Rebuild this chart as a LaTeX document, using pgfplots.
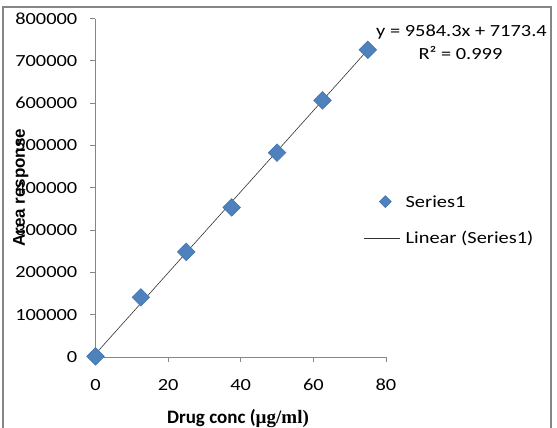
\documentclass[border=0pt]{standalone}
\usepackage{pgfplots}
\pgfplotsset{compat=1.18}
\usepackage{graphicx}
\usepackage{fontspec}
\setmainfont{Carlito}
\newfontfamily\lsans{Liberation Sans}
\newfontfamily\lserif{Liberation Serif}
\definecolor{mk}{HTML}{4F81BD}
\definecolor{mkd}{HTML}{4575B0}
\definecolor{axgray}{HTML}{868686}
\newcommand{\sx}[1]{\scalebox{1.2}[1]{#1}}
\newcommand{\fs}{\fontsize{17}{20}\selectfont}
\pgfplotsset{
  diamleg/.style={legend image code/.code={\draw[##1, only marks, mark size=4.2pt] plot coordinates {(21.7pt,0pt)};}},
  lineleg/.style={legend image code/.code={\draw[##1] (0pt,0pt) -- (36pt,0pt);}},
}
\begin{document}
\begin{tikzpicture}
\path[use as bounding box] (0,0) rectangle (557pt,428pt);
\draw[axgray, line width=1.5pt] (3pt,-10pt) rectangle (551pt,421pt);
\begin{axis}[
  at={(95.5pt,71pt)}, anchor=south west, scale only axis,
  width=290.5pt, height=338.5pt,
  xmin=0, xmax=80, ymin=0, ymax=800000,
  clip=false,
  axis lines=left, axis line style={axgray, line width=0.8pt, -},
  xtick={0,20,...,80}, ytick={0,100000,...,800000},
  tick align=outside, major tick length=5pt,
  tick style={axgray, line width=0.8pt},
  scaled y ticks=false,
  /pgf/number format/fixed,
  /pgf/number format/1000 sep={},
  /pgf/number format/assume math mode=true,
  xticklabel={\sx{\pgfmathprintnumber{\tick}}},
  yticklabel={\sx{\pgfmathprintnumber{\tick}}},
  tick label style={font=\fs},
  yticklabel style={anchor=east, inner sep=0pt, xshift=-13pt},
  xticklabel style={anchor=north, inner sep=0pt, yshift=-17pt},
  ylabel={\lsans\bfseries Area response},
  ylabel style={font=\fs, at={(axis description cs:-0.2427,0.5)}, anchor=base},
  xlabel={\bfseries Drug conc (\lserif\bfseries µg/ml)},
  xlabel style={font=\fontsize{19}{22}\selectfont, at={(axis description cs:0.4905,-0.195)}, anchor=base},
  legend style={at={(axis description cs:0.9219,0.4765)}, anchor=north west,
    draw=none, fill=none, inner sep=0pt, outer sep=0pt, font=\fs,
    row sep=25pt, column sep=5.7pt,
    nodes={inner sep=0pt, text height=11pt, text depth=0pt}},
  legend cell align=left,
]
\addplot[only marks, mark=square*, mark size=6.2pt,
  mark options={rotate=45, fill=mk, draw=mkd, line width=0.6pt}, diamleg]
  coordinates {(0,1500) (12.5,141000) (25,248500) (37.5,353500) (50,483000) (62.5,606500) (75,726000)};
\addlegendentry{\sx{Series1}}
\addplot[black!80, line width=0.6pt, lineleg]
  coordinates {(0,7173.4) (75,725995.9)};
\addlegendentry{\sx{Linear (Series1)}}
\end{axis}
\node[anchor=base west, font=\fs, inner sep=0pt] at (376pt,391.3pt) {\sx{y = 9584.3x + 7173.4}};
\node[anchor=base, font=\fs, inner sep=0pt] at (460.5pt,368.7pt) {\sx{R² = 0.999}};
\end{tikzpicture}
\end{document}
